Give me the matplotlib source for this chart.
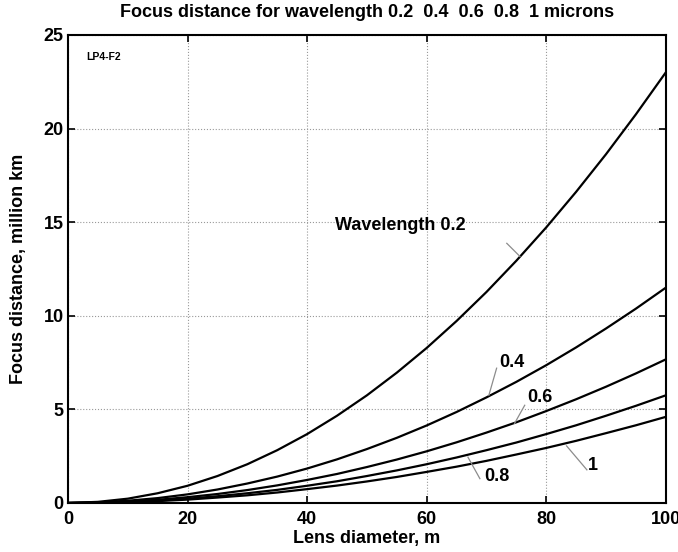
import numpy as np
from matplotlib import pyplot as plt

plt.rcParams['font.family'] = ['Liberation Sans', 'DejaVu Sans']
plt.rcParams['font.weight'] = 'bold'

# lens diameter, m
diameter = [0, 5, 10, 15, 20, 25, 30, 35, 40, 45, 50,
            55, 60, 65, 70, 75, 80, 85, 90, 95, 100]

# focus distance, million km
focus_02 = [0, 0.06, 0.23, 0.52, 0.92, 1.44, 2.07, 2.82, 3.68, 4.66, 5.75,
            6.96, 8.28, 9.72, 11.27, 12.94, 14.72, 16.62, 18.63, 20.76, 23.0]
focus_04 = [0, 0.03, 0.12, 0.26, 0.46, 0.72, 1.04, 1.41, 1.84, 2.33, 2.88,
            3.48, 4.14, 4.86, 5.64, 6.47, 7.36, 8.31, 9.32, 10.38, 11.5]
focus_06 = [0, 0.02, 0.08, 0.17, 0.31, 0.48, 0.69, 0.94, 1.23, 1.55, 1.92,
            2.32, 2.76, 3.24, 3.76, 4.31, 4.91, 5.54, 6.21, 6.92, 7.67]
focus_08 = [0, 0.01, 0.06, 0.13, 0.23, 0.36, 0.52, 0.70, 0.92, 1.16, 1.44,
            1.74, 2.07, 2.43, 2.82, 3.23, 3.68, 4.15, 4.66, 5.19, 5.75]
focus_10 = [0, 0.01, 0.05, 0.10, 0.18, 0.29, 0.41, 0.56, 0.74, 0.93, 1.15,
            1.39, 1.66, 1.94, 2.25, 2.59, 2.94, 3.32, 3.73, 4.15, 4.6]

series = [focus_02, focus_04, focus_06, focus_08, focus_10]

fig = plt.figure(figsize=(6.78, 5.52), dpi=100)
ax = fig.add_axes([0.1003, 0.0888, 0.8817, 0.8479])

for ys in series:
    ax.plot(diameter, ys, color='black', lw=1.6)

ax.set_xlim(0, 100)
ax.set_ylim(0, 25)
ax.set_xticks(np.arange(0, 101, 20))
ax.set_yticks(np.arange(0, 26, 5))
ax.grid(True, color='0.6', linestyle=':', lw=0.8)
ax.tick_params(direction='in', top=True, right=True, length=5, width=1.2,
               labelsize=13)
ax.tick_params(axis='x', pad=6)
ax.tick_params(axis='y', pad=3)
for lbl in ax.get_xticklabels() + ax.get_yticklabels():
    lbl.set_fontweight('bold')
for sp in ax.spines.values():
    sp.set_linewidth(1.5)

ax.set_xlabel('Lens diameter, m', fontsize=13, fontweight='bold', labelpad=1)
ax.set_ylabel('Focus distance, million km', fontsize=13, fontweight='bold', labelpad=12)
ax.set_title('Focus distance for wavelength 0.2  0.4  0.6  0.8  1 microns',
             fontsize=13, fontweight='bold', pad=13)

ax.text(3.0, 23.8, 'LP4-F2', fontsize=7.5, fontweight='bold', va='center')

# curve labels with leader lines
labels = [
    ('Wavelength 0.2', 44.6, 14.8, (73.4, 75.6), (13.87, 13.17)),
    ('0.4', 72.2, 7.53, (71.7, 70.4), (7.2, 5.75)),
    ('0.6', 76.8, 5.65, (76.4, 74.7), (5.22, 4.25)),
    ('0.8', 69.7, 1.40, (66.9, 68.9), (2.45, 1.3)),
    ('1', 87.0, 1.99, (83.4, 86.8), (3.05, 1.77)),
]
for txt, tx, ty, lx, ly in labels:
    ax.text(tx, ty, txt, fontsize=13, fontweight='bold', va='center', ha='left')
    ax.plot(lx, ly, color='0.55', lw=0.9)

fig.savefig('out.png', dpi=100)
